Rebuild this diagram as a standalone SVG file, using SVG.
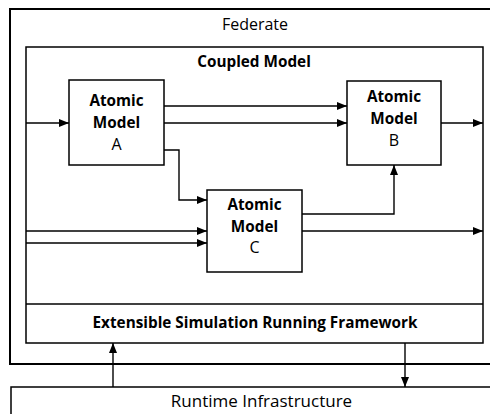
<svg xmlns="http://www.w3.org/2000/svg" width="490" height="414" viewBox="0 0 490 414">
<style>
.box{fill:#fff;stroke:#000;stroke-width:1.5}
.fed{fill:#fff;stroke:#000;stroke-width:2}
.t{font-family:"Open Sans","Liberation Sans",sans-serif;font-size:16px;fill:#000;text-anchor:middle}
.b{font-weight:bold;font-size:15.3px}
.c{fill:none;stroke:#000;stroke-width:1.4}
</style>
<defs>
<marker id="ah" markerWidth="10" markerHeight="8" refX="10" refY="4" orient="auto" markerUnits="userSpaceOnUse">
<path d="M0,0 L10,4 L0,8 Z" fill="#000"/>
</marker>
</defs>
<g id="federate">
<rect class="fed" x="10" y="9" width="490" height="355"/>
<text class="t" x="255" y="30">Federate</text>
</g>
<g id="coupled-model">
<rect class="box" x="26" y="47" width="457" height="296"/>
<text class="t b" x="254" y="66.5">Coupled Model</text>
</g>
<g id="esrf">
<line class="box" x1="26" y1="304" x2="483" y2="304"/>
<text class="t b" x="255" y="328">Extensible Simulation Running Framework</text>
</g>
<g id="rti">
<rect class="box" x="11" y="387" width="500" height="40"/>
<text class="t" x="261.5" y="406.5" style="font-size:17px">Runtime Infrastructure</text>
</g>
<g id="atomic-a">
<rect class="box" x="69" y="80" width="95" height="85"/>
<text class="t b" x="116.5" y="106">Atomic</text>
<text class="t b" x="116.5" y="128">Model</text>
<text class="t" x="116.5" y="150">A</text>
</g>
<g id="atomic-b">
<rect class="box" x="347" y="81" width="94" height="84"/>
<text class="t b" x="394" y="102">Atomic</text>
<text class="t b" x="394" y="124">Model</text>
<text class="t" x="394" y="146">B</text>
</g>
<g id="atomic-c">
<rect class="box" x="207" y="190" width="95" height="82"/>
<text class="t b" x="254.5" y="209.5">Atomic</text>
<text class="t b" x="254.5" y="231.5">Model</text>
<text class="t" x="254.5" y="253">C</text>
</g>
<g id="connectors">
<path class="c" d="M26,123 H69" marker-end="url(#ah)"/>
<path class="c" d="M164,106 H347" marker-end="url(#ah)"/>
<path class="c" d="M164,123 H347" marker-end="url(#ah)"/>
<path class="c" d="M164,150 H179 V200 H207" marker-end="url(#ah)"/>
<path class="c" d="M441,123 H483" marker-end="url(#ah)"/>
<path class="c" d="M302,214 H394 V165" marker-end="url(#ah)"/>
<path class="c" d="M302,231 H483" marker-end="url(#ah)"/>
<path class="c" d="M26,231 H207" marker-end="url(#ah)"/>
<path class="c" d="M26,243 H207" marker-end="url(#ah)"/>
<path class="c" d="M113,387 V343" marker-end="url(#ah)"/>
<path class="c" d="M405,343 V387" marker-end="url(#ah)"/>
</g>
</svg>
